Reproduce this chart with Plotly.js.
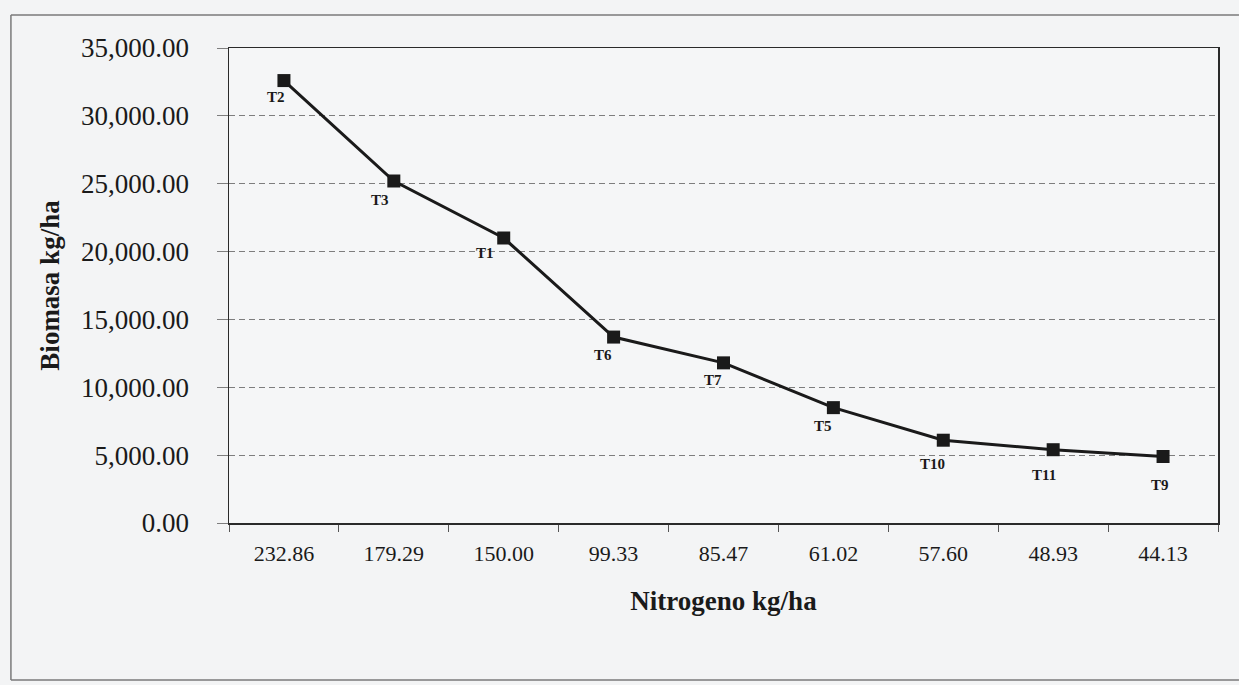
<!DOCTYPE html>
<html>
<head>
<meta charset="utf-8">
<script src="https://cdn.plot.ly/plotly-3.0.1.min.js"></script>
<style>
  html, body { margin: 0; padding: 0; background: #f3f4f5; overflow: hidden; }
  #chart { width: 1239px; height: 685px; }
</style>
</head>
<body>
<div id="chart"></div>
<script>
// Nitrogen applied per treatment (x categories) and resulting biomass
const nitrogenLabels = ['232.86', '179.29', '150.00', '99.33', '85.47', '61.02', '57.60', '48.93', '44.13'];
const biomass = [32600, 25200, 21000, 13700, 11800, 8500, 6100, 5400, 4900];
const treatments = ['T2', 'T3', 'T1', 'T6', 'T7', 'T5', 'T10', 'T11', 'T9'];

// Label nudges (pixels) relative to each marker
const labelDx = [-8, -14, -19, -11, -11, -10, -11, -9, -3];
const labelDy = [16, 19, 15, 18, 17, 18, 24, 25, 28];

const serif = 'Liberation Serif, Times New Roman, serif';
const ink = '#1a1a1a';

const trace = {
  type: 'scatter',
  mode: 'lines+markers',
  x: nitrogenLabels,
  y: biomass,
  line: { color: ink, width: 3 },
  marker: { symbol: 'square', size: 13, color: ink },
  hoverinfo: 'x+y'
};

// Category axes index categories by position, so labels use the point index
const annotations = treatments.map((t, i) => ({
  x: i,
  y: biomass[i],
  xref: 'x', yref: 'y',
  text: '<b>' + t + '</b>',
  showarrow: false,
  xshift: labelDx[i],
  yshift: -labelDy[i],
  font: { family: serif, size: 15, color: ink }
}));

// Outer frame: top, left and bottom edges (the right edge runs off the page)
const frameLine = { color: '#7a7a7a', width: 1.5 };
const frame = [
  { x0: -0.2205, x1: 1.0212, y0: 1.0695, y1: 1.0695 },
  { x0: -0.2205, x1: -0.2205, y0: -0.3305, y1: 1.0695 },
  { x0: -0.2205, x1: 1.0212, y0: -0.3305, y1: -0.3305 }
].map(s => Object.assign({ type: 'line', xref: 'paper', yref: 'paper', line: frameLine, layer: 'below' }, s));

const layout = {
  width: 1239,
  height: 685,
  margin: { l: 229, r: 21, t: 48, b: 162 },
  paper_bgcolor: '#f3f4f5',
  plot_bgcolor: '#f5f6f7',
  showlegend: false,
  xaxis: {
    type: 'category',
    categoryarray: nitrogenLabels,
    range: [-0.5, nitrogenLabels.length - 0.5],
    autorange: false,
    tickangle: 0,
    showline: true, mirror: true, linecolor: '#2a2a2a', linewidth: 1.5,
    showgrid: false, zeroline: false,
    ticks: 'outside', tickson: 'boundaries', ticklen: 7, tickcolor: '#555', tickwidth: 1,
    ticklabelstandoff: 10,
    tickfont: { family: serif, size: 22, color: ink },
    title: { text: '<b>Nitrogeno kg/ha</b>', font: { family: serif, size: 27, color: ink }, standoff: 26 }
  },
  yaxis: {
    range: [0, 35000],
    autorange: false,
    dtick: 5000,
    tick0: 0,
    tickformat: ',.2f',
    showline: true, mirror: true, linecolor: '#2a2a2a', linewidth: 1.5,
    showgrid: true, gridcolor: '#7e7e7e', gridwidth: 1, griddash: '6px,4px',
    zeroline: false,
    ticks: 'outside', ticklen: 11, tickcolor: '#7e7e7e', tickwidth: 1,
    ticklabelstandoff: 22,
    tickfont: { family: serif, size: 27, color: ink },
    title: { text: '<b>Biomasa kg/ha</b>', font: { family: serif, size: 27, color: ink }, standoff: 13 }
  },
  shapes: frame,
  annotations: annotations
};

Plotly.newPlot('chart', [trace], layout, { displayModeBar: false, staticPlot: true });
</script>
</body>
</html>
